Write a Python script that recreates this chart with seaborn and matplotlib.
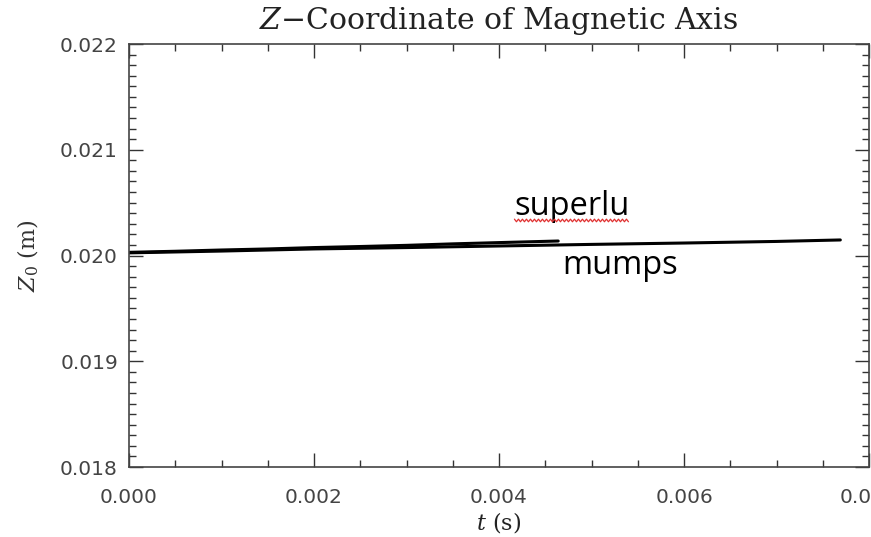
import matplotlib
matplotlib.use("Agg")
import matplotlib.pyplot as plt
import seaborn as sns
import pandas as pd
import numpy as np
from matplotlib.lines import Line2D
from matplotlib.ticker import MultipleLocator, FormatStrFormatter

# ---- data ----
t_superlu = [0.0, 0.0005, 0.0010, 0.0015, 0.0020, 0.0025, 0.0030, 0.0035, 0.0040, 0.00464]
z_superlu = [0.020030, 0.020040, 0.020052, 0.020062, 0.020075, 0.020085, 0.020096, 0.020110, 0.020122, 0.020137]

t_mumps = [0.0, 0.0010, 0.0020, 0.0030, 0.0040, 0.0050, 0.0060, 0.0070, 0.00769]
z_mumps = [0.020025, 0.020042, 0.020062, 0.020075, 0.020090, 0.020105, 0.020118, 0.020133, 0.020147]

labels = ["superlu", "mumps"]
label_pos_t = [0.00479, 0.00531]
label_pos_z = [0.020459, 0.019910]

x_ticks = [0.000, 0.002, 0.004, 0.006, 0.008]
y_ticks = [0.018, 0.019, 0.020, 0.021, 0.022]

df = pd.concat([
    pd.DataFrame({"t": t_superlu, "z": z_superlu, "solver": "superlu"}),
    pd.DataFrame({"t": t_mumps, "z": z_mumps, "solver": "mumps"}),
], ignore_index=True)

sns.set_style("ticks")
plt.rcParams["font.family"] = ["DejaVu Sans"]
plt.rcParams["mathtext.fontset"] = "dejavuserif"

fig = plt.figure(figsize=(8.71, 5.37), dpi=100)
ax = fig.add_axes([129 / 871, 1 - 467 / 537, (869 - 129) / 871, (467 - 44) / 537])

sns.lineplot(data=df, x="t", y="z", units="solver", estimator=None,
             color="black", linewidth=2.2, ax=ax, sort=False)

ax.set_xlim(x_ticks[0], x_ticks[-1])
ax.set_ylim(y_ticks[0], y_ticks[-1])
ax.set_xticks(x_ticks)
ax.set_yticks(y_ticks)
ax.xaxis.set_minor_locator(MultipleLocator(0.0005))
ax.yaxis.set_minor_locator(MultipleLocator(0.0001))
ax.xaxis.set_major_formatter(FormatStrFormatter("%.3f"))
ax.yaxis.set_major_formatter(FormatStrFormatter("%.3f"))

ax.tick_params(which="both", direction="in", top=True, right=True, color="#333333")
ax.tick_params(which="major", length=10, width=1.0, labelsize=14.5, labelcolor="#444444")
ax.tick_params(axis="y", which="major", pad=8)
ax.tick_params(axis="x", which="major", pad=15)
ax.tick_params(which="minor", length=5, width=1.0)
for s in ax.spines.values():
    s.set_color("#444444")
    s.set_linewidth(1.2)

ax.set_xlabel("$t$ (s)", fontsize=16, family="DejaVu Serif", color="#222222", labelpad=2)
ax.set_ylabel("$Z_0$ (m)", fontsize=16, family="DejaVu Serif", color="#333333", labelpad=14)
ax.set_title("$Z$\u2212Coordinate of Magnetic Axis", fontsize=21.5, family="DejaVu Serif",
             color="#222222", pad=11)

texts = []
for lab, tx, tz in zip(labels, label_pos_t, label_pos_z):
    texts.append(ax.text(tx, tz, lab, fontsize=23.5, family="Open Sans",
                         ha="center", va="center", color="black"))

# red spell-check squiggle under "superlu", placed from the text's own extent
fig.canvas.draw()
bb = texts[0].get_window_extent(renderer=fig.canvas.get_renderer())
xs = np.arange(bb.x0, bb.x1 + 0.1, 2.0)
ys = bb.y0 + 3.0 + 1.3 * np.where((np.arange(len(xs)) % 2) == 0, 1, -1)
pts = fig.transFigure.inverted().transform(np.column_stack([xs, ys]))
fig.add_artist(Line2D(pts[:, 0], pts[:, 1], color="#e03030", linewidth=0.9,
                      transform=fig.transFigure))

fig.savefig("out.png", dpi=100)
